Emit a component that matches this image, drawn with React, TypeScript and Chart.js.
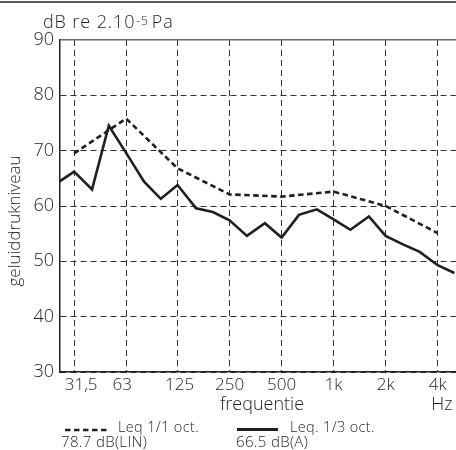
import { useEffect, useRef } from 'react';
import { Chart, registerables } from 'chart.js';

Chart.register(...registerables);

// 1/3-octave band centre frequencies (Hz) and levels (dB)
const thirdOctaveHz = [25, 31.5, 40, 50, 63, 80, 100, 125, 160, 200, 250, 315, 400, 500, 630, 800, 1000, 1250, 1600, 2000, 2500, 3150, 4000, 5000];
const thirdOctaveLevels = [64.1, 66.2, 63.0, 74.5, 69.6, 64.4, 61.3, 63.8, 59.6, 58.9, 57.4, 54.6, 56.9, 54.3, 58.4, 59.4, 57.6, 55.7, 58.1, 54.6, 53.1, 51.7, 49.3, 47.9];

// 1/1-octave band centre frequencies (Hz) and levels (dB)
const octaveHz = [31.5, 63, 125, 250, 500, 1000, 2000, 4000];
const octaveLevels = [69.5, 75.8, 66.8, 62.1, 61.7, 62.6, 60.0, 55.1];

// Axis tick labels
const xTickLabels = ['31,5', '63', '125', '250', '500', '1k', '2k', '4k'];
const yTickValues = [30, 40, 50, 60, 70, 80, 90];

// Texts
const unitHeaderMain = 'dB re 2.10';
const unitHeaderSup = '-5';
const unitHeaderTail = 'Pa';
const yAxisTitle = 'geluiddrukniveau';
const xAxisTitle = 'frequentie';
const xUnit = 'Hz';
const legendOctave = ['Leq 1/1 oct.', '78.7 dB(LIN)'];
const legendThird = ['Leq. 1/3 oct.', '66.5 dB(A)'];

const INK = '#231f20';
const FONT = '"Open Sans", "DejaVu Sans", sans-serif';
const W = '300';
const SERIES_DASH = [5.5, 3.5];

export default function App() {
  const canvasRef = useRef<HTMLCanvasElement | null>(null);

  useEffect(() => {
    const canvas = canvasRef.current;
    if (!canvas) return;

    const decorations = {
      id: 'decorations',
      afterDraw(chart: any) {
        const ctx = chart.ctx as CanvasRenderingContext2D & { letterSpacing?: string };
        const xScale = chart.scales.x;
        ctx.save();
        ctx.fillStyle = INK;
        ctx.strokeStyle = INK;

        // top rule
        ctx.lineWidth = 1.5;
        ctx.beginPath();
        ctx.moveTo(0, 2);
        ctx.lineTo(chart.width, 2);
        ctx.stroke();

        // unit header
        ctx.textAlign = 'left';
        ctx.textBaseline = 'alphabetic';
        ctx.letterSpacing = '0.9px';
        let x = 43;
        ctx.font = `${W} 18px ${FONT}`;
        ctx.fillText(unitHeaderMain, x, 27.5);
        x += ctx.measureText(unitHeaderMain).width + 1;
        ctx.font = `${W} 12px ${FONT}`;
        ctx.fillText(unitHeaderSup, x, 24.5);
        x += ctx.measureText(unitHeaderSup).width + 3;
        ctx.font = `${W} 18px ${FONT}`;
        ctx.fillText(unitHeaderTail, x, 27.5);
        ctx.letterSpacing = '0px';

        // y axis title
        ctx.save();
        ctx.translate(15, 221);
        ctx.rotate(-Math.PI / 2);
        ctx.textAlign = 'center';
        ctx.textBaseline = 'middle';
        ctx.font = `${W} 17px ${FONT}`;
        ctx.fillText(yAxisTitle, 0, 0);
        ctx.restore();

        // x tick labels
        const labelShift = [7, -4, 2, 0, 0, 0, 0, 0];
        ctx.font = `${W} 17px ${FONT}`;
        ctx.textAlign = 'center';
        ctx.textBaseline = 'alphabetic';
        octaveHz.forEach((hz, i) => {
          const px = xScale.getPixelForValue(hz) + labelShift[i];
          ctx.fillText(xTickLabels[i], px, 390);
        });

        // x title and unit
        ctx.font = `${W} 18px ${FONT}`;
        ctx.fillText(xAxisTitle, 262, 410);
        ctx.fillText(xUnit, 442, 410);

        // legend
        ctx.lineWidth = 2.6;
        ctx.setLineDash(SERIES_DASH);
        ctx.beginPath();
        ctx.moveTo(65, 430);
        ctx.lineTo(107, 430);
        ctx.stroke();
        ctx.setLineDash([]);
        ctx.lineWidth = 3;
        ctx.beginPath();
        ctx.moveTo(237, 429.5);
        ctx.lineTo(278, 429.5);
        ctx.stroke();

        ctx.textAlign = 'left';
        ctx.letterSpacing = '0.35px';
        ctx.font = `${W} 14.5px ${FONT}`;
        ctx.fillText(legendOctave[0], 118, 432);
        ctx.fillText(legendThird[0], 290, 432);
        ctx.font = `${W} 15px ${FONT}`;
        ctx.fillText(legendOctave[1], 61, 447);
        ctx.fillText(legendThird[1], 236, 447);
        ctx.letterSpacing = '0px';

        ctx.restore();
      },
    };

    const chart = new Chart(canvas, {
      type: 'line',
      data: {
        datasets: [
          {
            label: legendThird[0],
            data: thirdOctaveHz.map((hz, i) => ({ x: hz, y: thirdOctaveLevels[i] })),
            borderColor: INK,
            borderWidth: 2.6,
            pointRadius: 0,
            tension: 0,
            fill: false,
          },
          {
            label: legendOctave[0],
            data: octaveHz.map((hz, i) => ({ x: hz, y: octaveLevels[i] })),
            borderColor: INK,
            borderWidth: 2.6,
            borderDash: SERIES_DASH,
            pointRadius: 0,
            tension: 0,
            fill: false,
          },
        ],
      },
      options: {
        responsive: false,
        animation: false,
        layout: { padding: { top: 40, left: 0, right: 0, bottom: 0 } },
        plugins: {
          legend: { display: false },
          tooltip: { enabled: false },
          title: { display: false },
        },
        scales: {
          x: {
            type: 'logarithmic',
            min: 26.1,
            max: 5107,
            afterBuildTicks: (scale: any) => {
              scale.ticks = octaveHz.map((v) => ({ value: v }));
            },
            afterFit: (scale: any) => {
              scale.height = 78;
            },
            ticks: { display: false },
            grid: {
              color: '#333',
              lineWidth: 1,
              drawTicks: false,
            },
            border: { display: true, color: INK, width: 1.5, dash: [6, 4] },
          },
          y: {
            type: 'linear',
            min: 30,
            max: 90,
            afterBuildTicks: (scale: any) => {
              scale.ticks = yTickValues.map((v) => ({ value: v }));
            },
            afterFit: (scale: any) => {
              scale.width = 60;
            },
            ticks: {
              color: INK,
              padding: 6,
              font: { family: FONT, size: 18, weight: W },
            },
            grid: {
              color: (c: any) => (c.tick && c.tick.value === 90 ? '#666' : '#333'),
              lineWidth: (c: any) => (c.tick && c.tick.value === 90 ? 1.5 : 1),
              drawTicks: false,
            },
            border: {
              display: true,
              color: INK,
              width: 1.5,
              dash: (c: any) => (c.tick && c.tick.value === 90 ? [] : [6, 4]),
            },
          },
        },
      },
      plugins: [decorations],
    });

    return () => chart.destroy();
  }, []);

  return (
    <div style={{ position: 'fixed', left: 0, top: 0, width: 456, height: 450, background: '#fff' }}>
      <canvas ref={canvasRef} width={456} height={450} style={{ display: 'block' }} />
    </div>
  );
}
